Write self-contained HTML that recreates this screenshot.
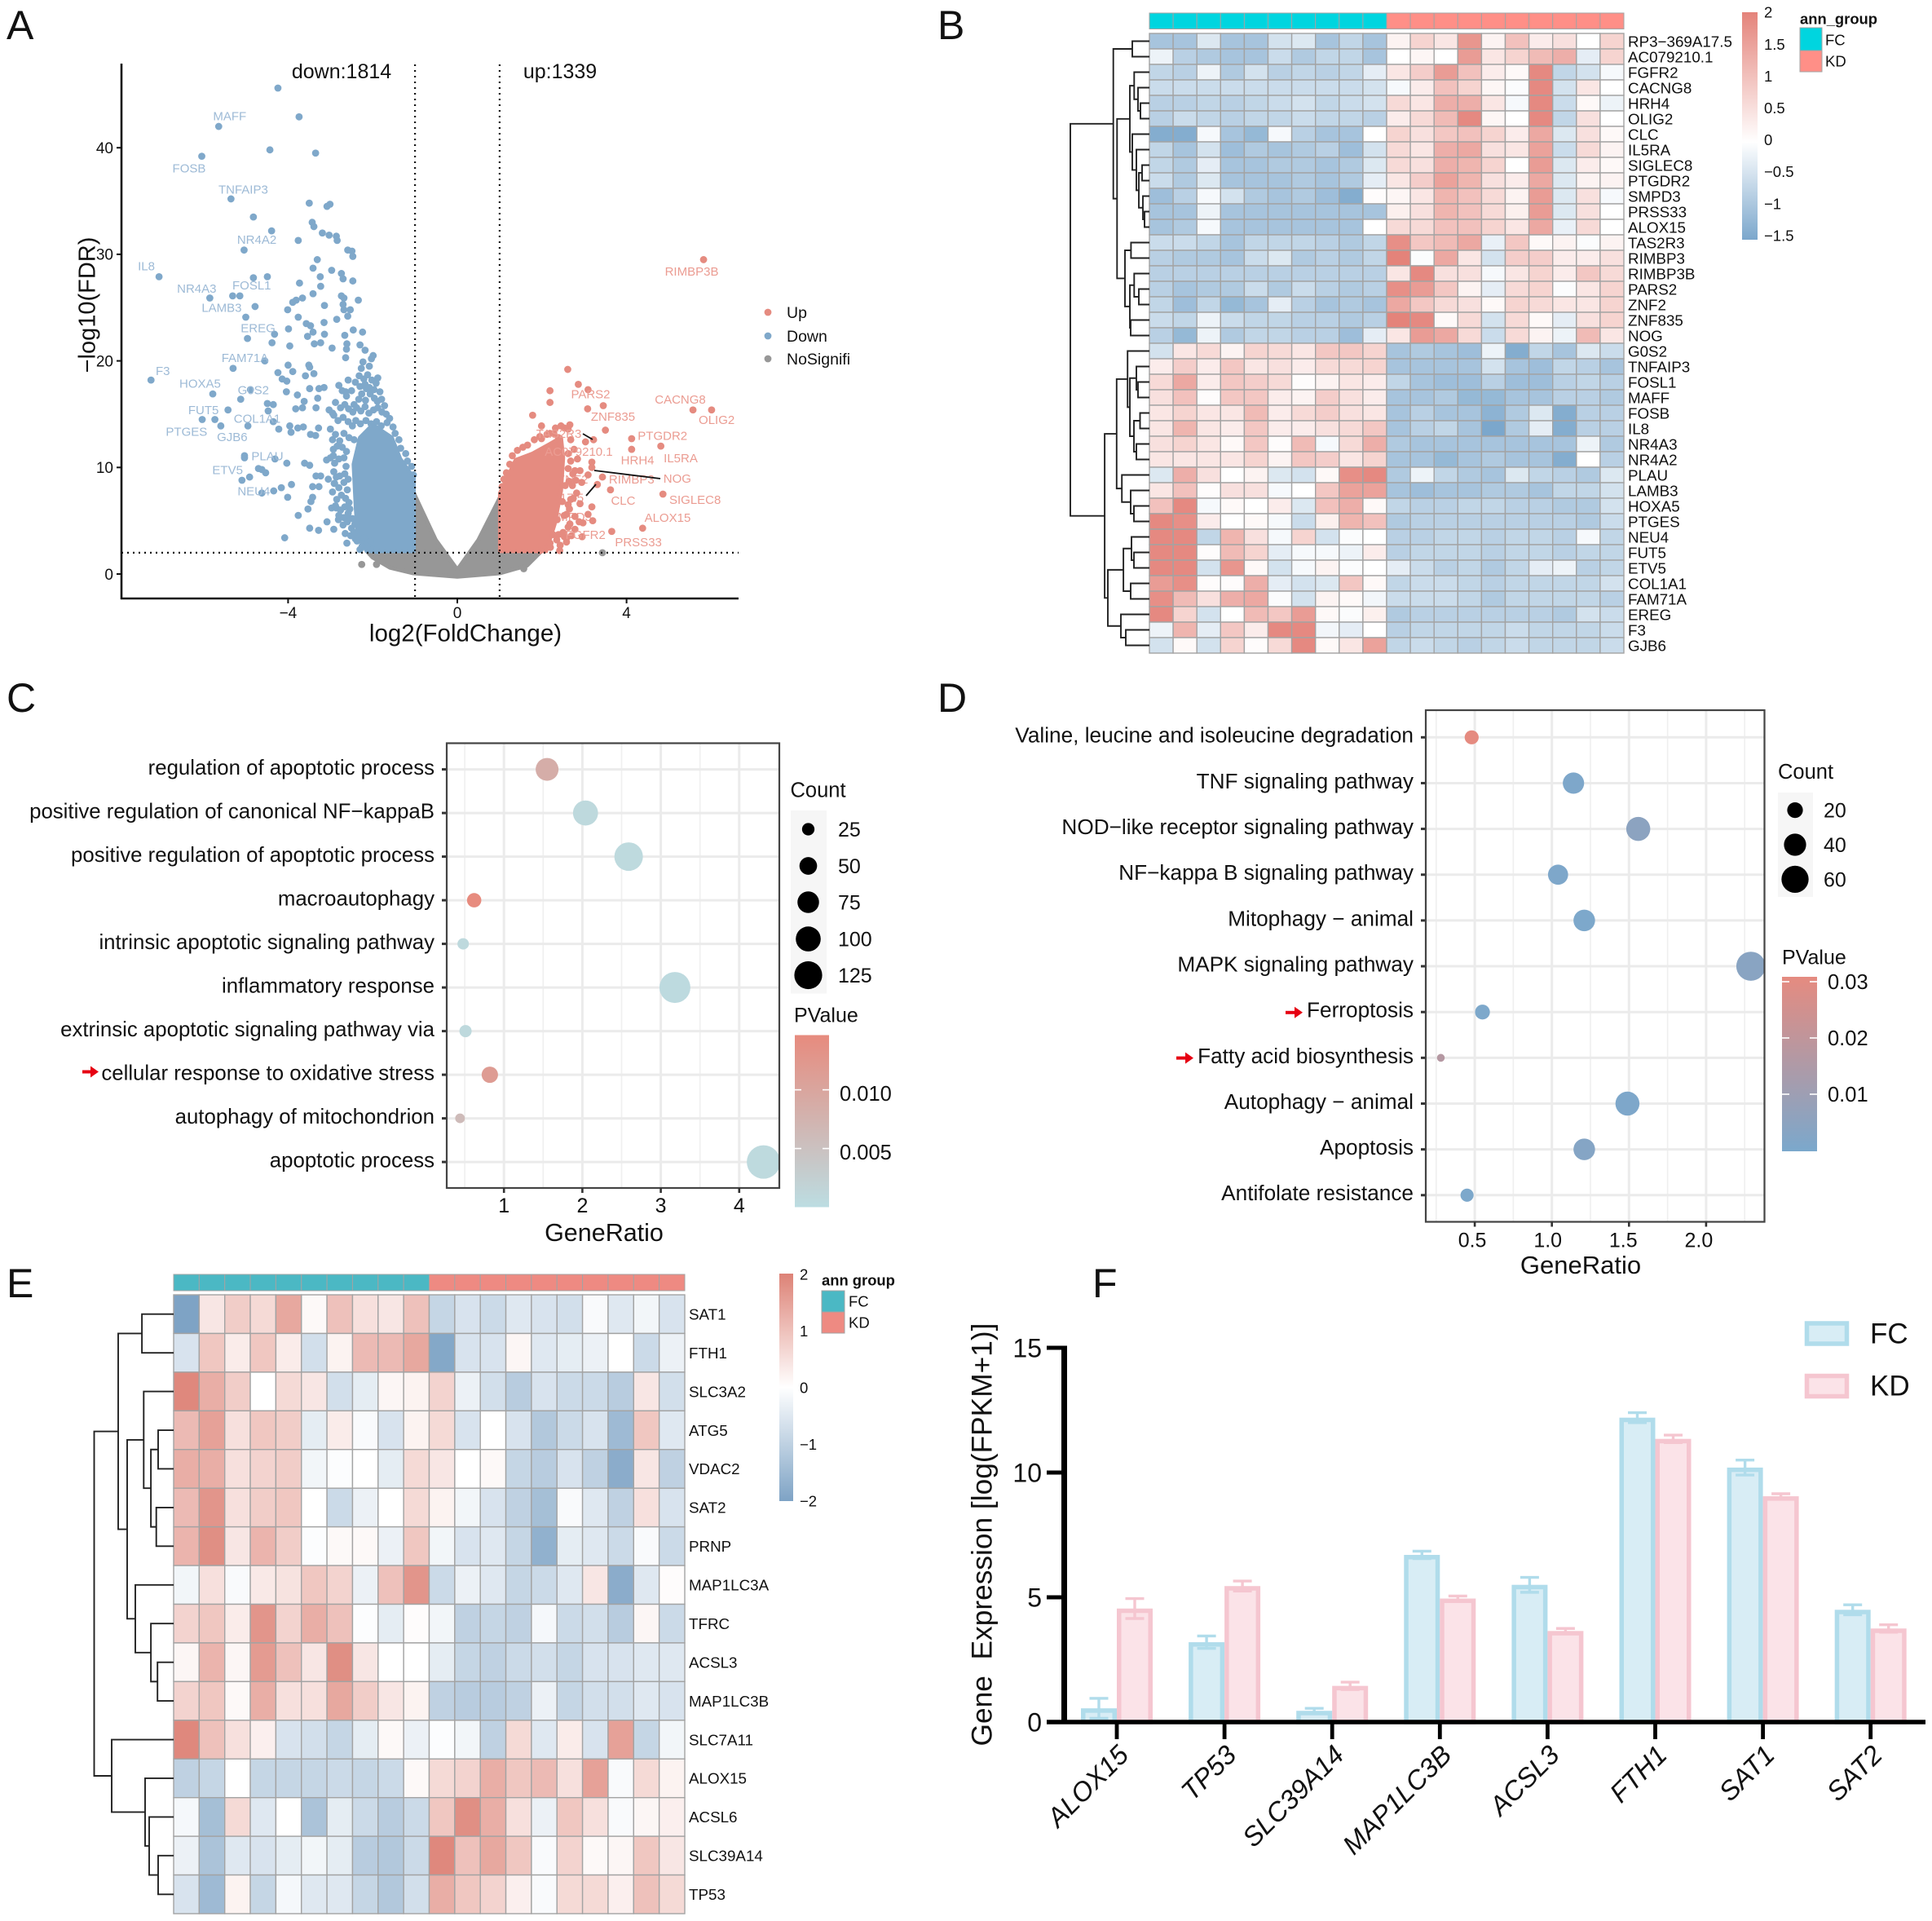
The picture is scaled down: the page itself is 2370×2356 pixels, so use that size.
<!DOCTYPE html>
<html lang="en">
<head>
<meta charset="utf-8">
<title>Multi-panel transcriptome figure</title>
<style>
html,body{margin:0;padding:0;background:#fff;}
svg{display:block;font-family:"Liberation Sans",sans-serif;}
</style>
</head>
<body>
<svg id="figure" xmlns="http://www.w3.org/2000/svg" width="2370" height="2356" viewBox="0 0 2370 2356">
<defs>
<linearGradient id="gradB" x1="0" y1="0" x2="0" y2="1"><stop offset="0" stop-color="#E4837A"/><stop offset="0.571" stop-color="#ffffff"/><stop offset="1" stop-color="#7BA7CC"/></linearGradient>
<linearGradient id="gradE" x1="0" y1="0" x2="0" y2="1"><stop offset="0" stop-color="#DD8276"/><stop offset="0.5" stop-color="#ffffff"/><stop offset="1" stop-color="#7EA3C5"/></linearGradient>
<linearGradient id="gradC" x1="0" y1="0" x2="0" y2="1"><stop offset="0" stop-color="#E78B7E"/><stop offset="1" stop-color="#BCDDE2"/></linearGradient>
<linearGradient id="gradD" x1="0" y1="0" x2="0" y2="1"><stop offset="0" stop-color="#E58B80"/><stop offset="1" stop-color="#7BA8CC"/></linearGradient>
<clipPath id="clipC"><rect x="548" y="911" width="408" height="546"/></clipPath>
<clipPath id="clipD"><rect x="1749" y="871" width="415.5" height="627"/></clipPath>
</defs>
</svg>
<script>
/* ---------- Panel A data (log2FC, -log10 FDR) ---------- */
const downX=[-4.24,-3.74,-5.64,-4.43,-3.35,-6.04,-5.35,-3.5,-3.08,-3.01,-4.82,-3.43,-3.39,-4.39,-3.19,-3.03,-2.86,-2.84,-3.76,-5.04,-2.59,-2.49,-2.47,-3.31,-3.41,-2.97,-2.74,-3.24,-4.82,-4.49,-7.05,-3.73,-2.7,-2.47,-3.23,-2.74,-2.68,-3.41,-3.66,-3.81,-3.89,-2.34,-5.31,-5.14,-5.85,-4.78,-4.01,-3.14,-2.7,-2.68,-2.53,-2.59,-5.0,-3.76,-3.57,-3.47,-3.15,-2.85,-3.99,-4.32,-2.46,-2.24,-3.54,-3.41,-3.14,-2.66,-4.38,-4.96,-3.23,-3.96,-3.38,-2.3,-2.61,-2.96,-2.62,-2.18,-1.99,-4.55,-2.03,-2.64,-2.23,-5.3,-3.51,-3.49,-2.08,-4.0,-4.24,-3.39,-2.27,-3.89,-3.59,-1.88,-4.14,-4.03,-7.24,-2.58,-2.41,-5.78,-4.89,-3.49,-3.27,-3.15,-4.04,-2.8,-3.78,-2.64,-2.15,-5.12,-5.42,-4.49,-4.35,-4.47,-3.3,-3.62,-3.03,-2.95,-3.66,-3.82,-3.34,-4.35,-6.03,-5.73,-5.59,-4.95,-4.22,-3.96,-3.93,-3.64,-3.77,-3.47,-3.35,-3.28,-5.03,-5.03,-4.31,-4.03,-3.61,-3.49,-3.09,-2.93,-2.93,-4.7,-4.62,-4.53,-5.09,-4.91,-3.92,-4.16,-4.62,-4.34,-4.01,-3.42,-3.34,-3.23,-3.27,-2.86,-2.91,-3.42,-3.46,-3.53,-3.76,-3.49,-3.28,-3.08,-2.97,-2.86,-4.08,-2.81,-2.61,-2.61,-2.3,-2.41,-2.92];
const downY=[45.6,42.9,42.0,39.8,39.5,39.2,35.2,34.8,34.5,34.7,33.5,33.0,32.6,32.2,32.0,31.8,31.7,31.3,31.3,30.4,30.4,30.3,29.8,29.5,28.7,28.5,28.2,27.9,27.8,27.9,27.9,27.3,27.7,27.5,27.0,26.1,25.9,26.3,25.9,25.7,25.5,25.7,26.1,26.1,25.9,25.1,24.8,25.2,25.3,24.8,24.8,24.2,24.1,24.1,23.5,23.3,23.6,23.9,23.0,22.5,22.9,22.7,22.3,22.7,22.5,22.4,21.7,22.1,21.7,21.4,21.6,21.5,21.6,21.2,21.1,21.0,20.5,20.0,20.2,20.3,19.9,19.3,19.6,19.4,19.5,19.6,18.9,18.8,19.3,19.0,18.6,18.4,18.3,18.1,18.2,18.2,18.0,16.9,17.3,17.4,17.4,17.5,17.1,17.7,16.8,17.1,17.4,16.4,15.4,16.0,15.9,15.3,16.5,16.2,15.4,15.1,15.6,15.5,15.6,14.3,14.5,14.5,13.9,13.9,13.6,13.9,13.3,13.8,13.7,13.1,13.0,13.7,11.1,10.9,10.8,10.4,10.4,10.2,10.7,11.7,11.1,9.9,9.8,9.5,8.8,9.1,8.4,8.1,7.6,7.8,7.2,8.2,9.2,9.2,8.2,9.1,8.5,7.2,6.8,6.1,5.5,4.3,4.1,4.9,6.2,6.2,3.4,5.1,5.3,2.9,2.3,3.3,4.2];
const downDenseX=[-2.32,-2.21,-2.12,-2.02,-1.92,-2.3,-2.18,-2.08,-1.97,-1.83,-2.72,-2.62,-2.5,-2.44,-2.33,-2.26,-2.17,-2.06,-1.96,-1.89,-1.79,-1.72,-2.88,-2.76,-2.66,-2.57,-2.47,-2.38,-2.28,-2.18,-2.09,-1.98,-1.88,-1.78,-1.68,-1.6,-2.92,-2.82,-2.7,-2.58,-2.48,-2.4,-2.29,-2.16,-2.04,-1.91,-1.8,-1.66,-1.52,-1.47,-3.0,-2.88,-2.78,-2.68,-2.56,-2.44,-2.95,-2.84,-2.72,-2.62,-1.38,-1.34,-1.22,-1.18,-1.08,-1.04,-3.0,-2.9,-2.8,-2.68,-2.63,-2.92,-2.78,-2.66,-2.58,-3.05,-2.9,-2.8,-2.68,-2.6,-2.95,-2.85,-2.74,-2.64,-2.56,-2.88,-2.76,-2.66,-2.54,-2.8,-2.68,-2.58,-2.48,-2.7,-2.6,-2.5,-2.42,-2.65,-2.52,-2.44,-2.37,-2.25,-2.2,-2.1,-2.0,-1.9,-2.05];
const downDenseY=[18.6,18.3,18.7,18.2,17.9,17.6,17.8,17.5,17.3,17.1,17.2,16.7,17.2,15.9,16.4,16.9,16.3,16.9,16.5,16.2,16.4,15.8,16.1,15.6,15.9,15.5,15.2,15.6,15.3,15.7,15.1,15.4,15.6,15.2,15.0,14.6,14.9,14.4,14.7,14.3,13.9,14.4,14.1,14.4,14.1,14.3,13.9,14.2,13.8,13.2,13.6,13.1,12.5,13.2,12.8,12.6,12.6,12.0,11.9,11.5,12.6,11.8,11.3,10.6,10.1,9.3,10.9,10.4,10.8,10.9,10.1,9.6,9.2,9.4,8.9,8.9,8.5,8.1,8.6,7.9,7.7,7.0,7.4,7.1,6.7,6.4,6.0,6.3,6.1,5.5,5.3,5.7,5.2,4.6,4.9,4.3,4.7,3.8,3.6,3.9,3.1,2.6,3.4,2.5,2.3,2.2,3.1];
const upX=[5.82,2.61,2.86,3.09,2.19,2.19,3.45,3.08,5.57,6.01,1.78,3.5,4.12,3.22,3.03,4.12,4.81,3.18,3.18,3.09,3.43,3.31,3.62,4.86,2.74,3.18,3.2,3.09,4.38,3.65,2.95,2.97,2.65,1.99,2.66,2.32,2.53,2.19,1.99,2.39,2.8,2.73,2.53,2.39,2.53,2.26,2.59,2.43,2.19,2.66];
const upY=[29.5,19.2,17.8,17.3,17.2,16.1,15.8,15.5,15.4,15.4,14.9,13.5,12.7,12.6,12.4,11.7,12.0,10.5,10.0,9.3,9.1,8.4,7.9,7.5,7.1,6.3,5.0,5.6,4.3,4.0,3.5,4.8,6.1,13.9,14.0,13.7,13.7,13.2,12.7,12.8,8.8,9.4,5.5,3.7,3.5,3.7,3.4,2.7,2.9,4.7];
const upDenseX=[2.62,2.45,2.28,2.12,1.95,1.82,1.66,1.55,1.42,1.3,1.24,1.16,1.1,1.06,2.68,2.76,2.62,2.84,2.68,2.9,2.78,2.62,2.94,2.72,2.64,2.82,2.68,2.9,2.62,2.78,2.58,2.88,2.62,2.78,2.5,2.7,2.35,2.58,2.2,2.42,2.05,1.95,2.36,2.48,2.55];
const upDenseY=[13.6,13.9,13.2,13.1,12.9,12.6,12.1,11.9,11.6,11.1,10.3,9.5,8.9,8.2,12.6,11.7,11.3,10.8,10.6,9.7,9.7,9.9,8.6,8.3,8.7,7.6,7,6.6,6.5,5.4,5.6,4.9,4.4,4.2,3.9,3.6,3.2,3.0,2.5,2.2,2.3,2.2,5.1,6.8,8.3];
const outlierX=[3.43,1.57,-2.26,-1.91];
const outlierY=[2.0,0.5,0.9,0.9];
/* dense clouds of points, outlined in data units */
const downCloudX=[-1.03,-1.03,-1.35,-1.55,-2.0,-2.3,-2.45,-2.4,-2.35,-2.14];
const downCloudY=[2.15,9.0,10.8,12.8,14.0,12.8,10.3,6.25,3.5,2.15];
const upCloudX=[1.01,1.01,1.18,1.38,1.78,2.19,2.45,2.5,2.45,2.3,2.1];
const upCloudY=[2.15,7.6,9.0,10.7,11.3,12.2,12.8,10.9,7.8,4.7,2.15];
const grayCloudX=[-2.14,-1.03,-1.03,-0.51,0,0.5,1.01,1.01,1.99,1.65,1.01,0,-1.05,-1.59,-2.0];
const grayCloudY=[2.15,2.15,7.6,3.2,0.4,3.2,7.2,2.15,2.15,0.8,0.08,-0.25,0.08,0.6,1.55];
const volcanoXTicks=[-4,0,4];
const volcanoYTicks=[0,10,20,30,40];
const downGeneLabels=["MAFF","FOSB","TNFAIP3","NR4A2","IL8","NR4A3","FOSL1","LAMB3","EREG","FAM71A","F3","HOXA5","G0S2","FUT5","COL1A1","PTGES","GJB6","PLAU","ETV5","NEU4"];
const downGeneLabelX=[-5.38,-6.34,-5.06,-4.74,-7.35,-6.16,-4.86,-5.57,-4.71,-5.02,-6.96,-6.08,-4.82,-6.0,-4.73,-6.4,-5.32,-4.49,-5.43,-4.81];
const downGeneLabelY=[43.0,38.1,36.1,31.4,28.9,26.8,27.1,25.0,23.1,20.3,19.1,17.9,17.3,15.4,14.6,13.4,12.9,11.1,9.8,7.8];
const upGeneLabels=["RIMBP3B","PARS2","CACNG8","ZNF835","OLIG2","TAS2R3","PTGDR2","AC079210.1","HRH4","IL5RA","NOG","RIMBP3","SIGLEC8","CLC","ALOX15","FGFR2","PRSS33"];
const upGeneLabelX=[5.54,3.15,5.27,3.68,6.13,2.4,4.85,2.87,4.26,5.28,5.2,4.12,5.62,3.92,4.97,3.03,4.28];
const upGeneLabelY=[28.4,16.9,16.4,14.8,14.5,13.2,13.0,11.5,10.7,10.9,9.0,8.9,7.0,6.9,5.3,3.7,3.0];
const hiddenGeneLabels=["ZNF2","RP3-369A17.5","SMPD3"];
const hiddenGeneLabelX=[2.73,2.04,2.68];
const hiddenGeneLabelY=[8.9,7.2,5.4];

/* ---------- Panel B data (z-scores) ---------- */
const heatBGenes=["RP3−369A17.5","AC079210.1","FGFR2","CACNG8","HRH4","OLIG2","CLC","IL5RA","SIGLEC8","PTGDR2","SMPD3","PRSS33","ALOX15","TAS2R3","RIMBP3","RIMBP3B","PARS2","ZNF2","ZNF835","NOG","G0S2","TNFAIP3","FOSL1","MAFF","FOSB","IL8","NR4A3","NR4A2","PLAU","LAMB3","HOXA5","PTGES","NEU4","FUT5","ETV5","COL1A1","FAM71A","EREG","F3","GJB6"];
const heatBValues=[
[-1,-1,-.4,-1,-1,-.5,-.4,-1,-.7,-1,.2,.7,.4,1.7,.2,1,.3,.5,0,.7],
[-.2,-.8,-.9,-1,-1,-.6,-.9,-.7,-.7,-1,0,.15,0,1.6,.4,.7,1.1,1.3,-.3,.7],
[-.7,-.8,-.2,-.9,-.5,-.8,-.7,-.8,-.7,-.3,.4,.8,1.6,1,.3,.1,1.9,-.7,-.5,-.1],
[-.6,-.6,-.6,-.6,-.6,-.6,-.6,-.6,-.6,-.5,-.1,.3,1,.7,.15,-.05,1.9,-.5,.4,0],
[-.8,-.8,-.7,-.8,-.7,-.6,-.5,-.7,-.6,-.5,.6,.4,1.3,1.3,.4,-.1,1.9,-.6,.1,-.2],
[-.8,-.6,-.7,-.8,-.7,-.7,-.6,-.7,-.7,-.8,.3,.6,1.1,1.9,.15,0,1.9,-.7,.5,0],
[-1.4,-1.4,-.1,-1,-1.2,-.1,-.8,-1,-1,0,.7,.5,.9,1,.7,.3,1.4,-.4,.5,.1],
[-.7,-1,-.5,-1.1,-.9,-1,-.9,-.8,-1.1,-.5,.6,.4,1.3,1.4,.5,.4,1.5,-.6,.6,.2],
[-.7,-.9,-.3,-1,-1,-.9,-.9,-1,-.9,-.4,.6,.5,1.3,1.2,.7,0,1.6,-.4,.3,.1],
[-.6,-.9,-.4,-1,-1,-1,-.9,-1,-.9,-.3,.4,.8,1.5,1.2,.5,.3,1.4,-.4,.2,.2],
[-1.1,-.8,-.1,-.5,-.9,-1,-.9,-1.1,-1.4,.05,.15,.4,1.2,1,.6,.2,1.6,-.4,.5,-.1],
[-1,-1,-.2,-1,-1,-1,-1,-1,-1,-1,.25,.5,1.2,1,.6,.25,1.6,-.4,.5,0],
[-1,-.9,-.1,-1,-1,-1,-1,-1,-1,0,.6,.6,1,1,.7,.4,1.4,-.25,.6,0],
[-.6,-.6,-.7,-1,-.7,-.7,-.7,-.8,-.9,-.7,1.8,.9,1.1,1.4,-.25,.9,.1,.2,-.05,.2],
[-.8,-.9,-.9,-1,-.6,-.4,-.9,-.8,-.9,-.7,2,-.05,1.4,.4,-.5,.8,.8,.3,.3,.5],
[-.8,-.8,-.8,-.8,-.8,-.8,-.8,-.8,-.8,-.8,.4,1.9,.5,.5,-.1,.4,.7,.3,.9,.6],
[-.8,-1,-.9,-.9,-.6,-.9,-.6,-.8,-.9,-.8,1.8,1.6,.9,.2,-.3,.6,.7,-.05,.4,.7],
[-.7,-1.1,-.7,-1.2,-1,-.3,-.8,-1,-.9,-1,1.4,.9,.6,.5,.1,.7,.6,.4,.4,.7],
[-.6,-.7,-.2,-.6,-.7,-.7,-.8,-.8,-.9,-.8,2,1.9,.1,.6,-.5,.6,.1,-.3,.5,.7],
[-.8,-1.2,-.2,-.9,-.7,-.7,-.8,-.8,-1.1,-.3,.4,1.6,1.4,.6,-.6,.6,.2,-.2,1.1,.4],
[-.5,.4,.6,.2,.7,.6,.4,.9,.9,.7,-1,-.9,-1,-1.1,-.2,-1.4,-.7,-1,-.4,-.6],
[.3,.8,.3,.9,.4,.5,.3,.6,.6,.7,-1,-1,-1,-1,-.5,-1,-1.1,-.7,-.8,-1],
[.6,1.4,.3,.9,.8,.6,.05,.2,.4,.3,-.7,-1,-1.1,-1.1,-.8,-1.1,-1.1,-.8,-.7,-.8],
[.5,1,.05,.9,.9,.3,.2,.8,.5,.3,-1,-1,-.9,-1.2,-1.2,-1,-1,-.8,-.8,-.9],
[.4,.7,.4,.4,1.1,.3,.6,.8,.5,.4,-1,-.8,-1,-1,-1.3,-.9,-.4,-1.4,-.8,-.8],
[.4,1.2,.4,.3,.9,.3,.3,.5,.6,.9,-1,-.8,-.7,-1,-1.5,-.9,-.3,-1.4,-.8,-.8],
[.5,.7,.4,.1,.9,.05,1.1,-.1,.6,1.3,-.9,-1,-1,-1,-1,-1,-1,-1,-.2,-.9],
[.4,.4,.4,.4,.7,.2,.9,.8,.4,.7,-1,-1,-1.2,-1,-.9,-1,-1,-1.4,0,-.8],
[-.4,1.3,.5,0,.2,-.4,-.5,.1,1.8,1.9,-.9,-.2,-.7,-.9,-1,-.4,-.7,-.8,-.9,-.4],
[.4,1,.05,.5,.5,-.1,0,.9,1.5,1.5,-1,-1.1,-1,-1,-.9,-.9,-1,-.7,-.7,-.5],
[1,1.9,-.1,.1,0,.3,-.4,1,1.3,.1,-.7,-.8,-.8,-.7,-.7,-.8,-.8,-.9,-.9,-.5],
[1.9,1.8,.3,0,.1,-.1,-.6,.25,1.2,1,-.9,-.8,-.8,-.8,-.8,-.8,-.8,-.8,-.9,-.6],
[1.9,1.9,-.7,1.2,.5,-.1,.7,-.5,-.05,0,-.8,-.8,-.7,-.7,-.8,-.7,-.7,-.8,-.1,-.7],
[1.9,1.9,.05,1.1,.7,-.3,-.1,-.1,-.2,.3,-.8,-.7,-.7,-.7,-.8,-.7,-.7,-.8,-.7,-.7],
[1.9,1.9,-.5,1.7,.1,-.5,-.1,.2,-.05,0,-.3,-.6,-.8,-.7,-.9,-.7,-.3,-.2,-.8,-.7],
[1.6,1.8,.05,.05,1.3,-.3,-.5,-.4,.9,.1,-.7,-.6,-.6,-.7,-.8,-.7,-.7,-.7,-.7,-.5],
[1.8,1.1,.5,1.3,1.4,-.05,-.5,.2,.1,-.15,-.6,-.6,-.6,-.7,-.9,-.7,-.7,-.7,-.7,-.8],
[1.9,.7,-.5,0,1.1,.9,1.6,.1,-.05,.25,-.9,-.8,-.8,-.8,-.8,-.8,-.8,-.9,-.5,-.6],
[-.2,1.2,-.3,.9,.3,1.9,1.9,-.15,-.3,0,-.8,-.7,-.7,-.7,-.7,-.6,-.7,-.7,-.7,-.6],
[-.5,.1,-.5,.7,.05,.6,1.9,.1,.4,1.5,-.7,-.6,-.7,-.8,-.7,-.6,-.7,-.7,-.7,-.6]
];
const heatBLegendTicks=[2,1.5,1,0.5,0,-0.5,-1,-1.5];
const heatBTree=[97,
 [44.3,[21,0,1],[39.7,
   [24,[18.7,2,[14,3,[11,4,5]]],[21,6,[16,7,[13,[9,8,9],[8,10,[6,11,12]]]]]],
   [30,[22.6,13,14],[24,[18.7,15,[13,16,17]],[23,18,19]]]]],
 [54.9,[40.2,
   [26.8,20,[24,[16,21,[14,22,23]],[19,[11.5,24,25],[16,26,27]]]],
   [33.8,28,[23,29,[19,30,31]]]],
  [51,[31.9,[22,32,[19,33,34]],[23,35,36]],[35,37,[29,38,39]]]]];

/* ---------- Panel C data ---------- */
const goTerms=["regulation of apoptotic process","positive regulation of canonical NF−kappaB","positive regulation of apoptotic process","macroautophagy","intrinsic apoptotic signaling pathway","inflammatory response","extrinsic apoptotic signaling pathway via","cellular response to oxidative stress","autophagy of mitochondrion","apoptotic process"];
const goRatio=[1.55,2.04,2.59,0.62,0.48,3.18,0.51,0.82,0.44,4.31];
const goCount=[84,101,131,33,21,154,24,43,15,180];
const goPValue=[0.0085,0.0007,0.0006,0.0146,0.0008,0.0005,0.0008,0.0115,0.006,0.0006];
const goXTicks=[1,2,3,4];
const goCountLegend=[25,50,75,100,125];
const goPTicks=[0.010,0.005];

/* ---------- Panel D data ---------- */
const keggTerms=["Valine, leucine and isoleucine degradation","TNF signaling pathway","NOD−like receptor signaling pathway","NF−kappa B signaling pathway","Mitophagy − animal","MAPK signaling pathway","Ferroptosis","Fatty acid biosynthesis","Autophagy − animal","Apoptosis","Antifolate resistance"];
const keggRatio=[0.48,1.14,1.56,1.04,1.21,2.29,0.55,0.28,1.49,1.21,0.45];
const keggCount=[16,37,47,33,38,69,18,5,47,38,14];
const keggPValue=[0.031,0.001,0.005,0.001,0.0005,0.004,0.0005,0.017,0.001,0.003,0.0005];
const keggXTicks=[0.5,1.0,1.5,2.0];
const keggCountLegend=[20,40,60];
const keggPTicks=[0.03,0.02,0.01];

/* ---------- Panel E data ---------- */
const heatEGenes=["SAT1","FTH1","SLC3A2","ATG5","VDAC2","SAT2","PRNP","MAP1LC3A","TFRC","ACSL3","MAP1LC3B","SLC7A11","ALOX15","ACSL6","SLC39A14","TP53"];
const heatEValues=[
[-2,.4,.8,.6,1.4,.1,1,.5,.4,1,-.9,-.6,-.8,-.5,-.6,-.7,-.1,-.5,-.2,-.6],
[-.6,.9,.3,.9,.3,-.7,.2,1.1,1.1,1.4,-1.9,-.6,-.6,.15,-.5,-.4,-.3,0,-.8,-.3],
[1.9,1.3,.8,0,.6,.4,-.7,-.4,.15,.2,.7,-.3,-.7,-1.1,-.6,-.8,-.8,-1.1,.4,-.7],
[1.1,1.5,.5,.9,.8,-.4,.3,-.1,-.6,.2,.6,-.6,0,-.6,-1.2,-.8,-.6,-1.5,.9,-.5],
[1.3,1.3,.5,.7,.8,-.2,-.05,0,-.4,.6,.4,0,.1,-.9,-1.1,-.6,-1,-1.8,.4,-1],
[1.1,1.7,.5,.8,.9,0,-.8,-.3,0,.6,.2,-.2,-.6,-1,-1.4,-.1,-.5,-1,.5,-.6],
[1.2,1.8,.4,1.2,.8,-.05,.1,.1,-.3,.9,-.2,-.6,-.5,-.9,-1.7,-.4,-.5,-.8,-.1,-.8],
[-.2,.5,-.1,.35,.45,.9,.7,-.3,1,1.7,-.8,-.3,-.5,-.9,-.8,-.5,.4,-1.8,-.5,.05],
[.7,.9,.3,1.7,.7,1.3,1,-.05,-.4,.05,-.2,-1,-.9,-1,-.15,-.8,-.7,-1.1,.15,-.8],
[.15,1.2,.15,1.6,1,.4,1.8,.4,0,0,-.4,-.9,-1,-.8,-.7,-.9,-.6,-.6,-.5,-.5],
[.7,.9,.1,1.3,.5,.5,1.4,.8,.4,.2,-1,-1.1,-1.1,-1,-.3,-.9,-.7,-.7,-.5,-.6],
[1.9,1,.5,.25,-.6,-.7,-.9,-.4,.1,-.3,-.05,-.2,-1,.6,-.5,.3,-.6,1.5,-.9,-.2],
[-1,-.9,0,-.9,-.9,-.9,-.8,-.9,-.8,.1,.6,.7,1.3,.9,1.1,.5,1.5,-.1,.6,.2],
[-.15,-1.4,.6,-.5,0,-1.3,-.4,-.8,-1.1,-.8,.9,1.8,1.3,.5,-.3,.9,.5,-.1,.15,.25],
[-.3,-1.3,-.5,-.6,-.4,-.2,-.4,-1.1,-1.2,-.8,1.9,1,1.4,.9,-.1,.7,.1,.15,.9,.4],
[-.6,-1.5,.2,-.9,-.15,-.5,-.5,-.9,-1.2,-.7,1.3,.9,.7,.25,-.1,.6,.6,.25,1,.6]
];
const heatELegendTicks=[2,1,0,-1,-2];
const heatETree=[97.5,
 [68,[38.9,0,1],[57,[36.7,2,[27.9,[19,3,4],[21.3,5,6]]],[47,7,[27.9,8,[19.8,9,10]]]]],
 [76,11,[35,12,[30,13,[19,14,15]]]]];

/* ---------- Panel F data ---------- */
const barGenes=["ALOX15","TP53","SLC39A14","MAP1LC3B","ACSL3","FTH1","SAT1","SAT2"];
const barFC=[0.55,3.2,0.45,6.7,5.5,12.2,10.2,4.5];
const barKD=[4.55,5.45,1.45,4.95,3.65,11.35,9.05,3.75];
const errFC=[0.4,0.25,0.1,0.15,0.3,0.2,0.3,0.2];
const errKD=[0.4,0.2,0.15,0.1,0.1,0.15,0.1,0.15];
const barYTicks=[0,5,10,15];

/* ---------- helpers ---------- */
const NS="http://www.w3.org/2000/svg";
const svg=document.getElementById("figure");
function shape(tag,attrs,parent){
  const n=document.createElementNS(NS,tag);
  for(const k in attrs){n.setAttribute(k,attrs[k]);}
  (parent||svg).appendChild(n);
  return n;
}
function label(x,y,str,size,name,opts){
  opts=opts||{};
  const t=document.createElementNS(NS,"text");
  t.setAttribute("x",x);
  t.setAttribute("y",y+size*0.36);
  t.setAttribute("font-size",size);
  t.setAttribute("fill",opts.fill||"#111");
  t.setAttribute("text-anchor",opts.anchor||"start");
  if(opts.weight){t.setAttribute("font-weight",opts.weight);}
  if(opts.italic){t.setAttribute("font-style","italic");}
  if(opts.pre){t.setAttribute("style","white-space:pre");}
  if(opts.rotate!==undefined){t.setAttribute("transform","rotate("+opts.rotate+" "+x+" "+y+")");}
  
  
  t.textContent=str;
  svg.appendChild(t);
  return t;
}
function seg(x1,y1,x2,y2,stroke,w,name,dash){
  const a={x1:x1,y1:y1,x2:x2,y2:y2,stroke:stroke,"stroke-width":w};
  if(dash){a["stroke-dasharray"]=dash;}
  const l=shape("line",a);
  
  
  return l;
}
function mix(a,b,t){
  const c=[0,1,2].map(function(i){return Math.round(a[i]+(b[i]-a[i])*t);});
  return "rgb("+c.join(",")+")";
}
function heatColor(v,lo,hi,maxNeg,maxPos){
  if(v>=0){return mix([255,255,255],hi,Math.min(1,v/maxPos));}
  return mix([255,255,255],lo,Math.min(1,-v/maxNeg));
}
function arrow(x1,x2,y){
  const g=shape("g",{});
  
  
  shape("line",{x1:x1,y1:y,x2:x2-6,y2:y,stroke:"#E60012","stroke-width":4},g);
  shape("polygon",{points:(x2-10)+","+(y-7)+" "+x2+","+y+" "+(x2-10)+","+(y+7),fill:"#E60012"},g);
}
/* panel letters */
const panelLetters=["A","B","C","D","E","F"];
const letterX=[8,1150,8,1150,8,1340];
const letterY=[30,30,855,855,1573,1573];
panelLetters.forEach(function(s,i){label(letterX[i],letterY[i],s,50,"panel-letter-"+s.toLowerCase());});

/* ---------- Panel A ---------- */
function xA(v){return 561+51.9*v;}
function yA(v){return 704-13.07*v;}
function cloud(xs,ys,fill,name){
  const p=shape("polygon",{points:xs.map(function(x,i){return xA(x)+","+yA(ys[i]);}).join(" "),fill:fill,stroke:fill,"stroke-width":5,"stroke-linejoin":"round"});
  
  
}
hiddenGeneLabels.forEach(function(s,i){label(xA(hiddenGeneLabelX[i]),yA(hiddenGeneLabelY[i]),s,15,"gene-label-up",{fill:"#EB9C92",anchor:"middle"});});
cloud(grayCloudX,grayCloudY,"#979797","nosignif-point-cloud");
cloud(upCloudX,upCloudY,"#E58B80","up-point-cloud");
cloud(downCloudX,downCloudY,"#7FA8CA","down-point-cloud");
function points(xs,ys,fill,name){
  xs.forEach(function(x,i){
    const c=shape("circle",{cx:xA(x),cy:yA(ys[i]),r:4.4,fill:fill});
    
    
  });
}
points(outlierX,outlierY,"#979797","nosignif-point");
points(upX,upY,"#E58B80","up-point");
points(upDenseX,upDenseY,"#E58B80","up-point");
points(downX,downY,"#7FA8CA","down-point");
points(downDenseX,downDenseY,"#7FA8CA","down-point");
seg(xA(-1),79,xA(-1),734,"#111",2.2,"fold-threshold-left","2 5");
seg(xA(1),79,xA(1),734,"#111",2.2,"fold-threshold-right","2 5");
seg(149,yA(2),906,yA(2),"#111",2.2,"fdr-threshold","2 5");
seg(149,78,149,735,"#111",2.6,"volcano-y-axis");
seg(148,734,906,734,"#111",2.6,"volcano-x-axis");
volcanoXTicks.forEach(function(v){
  seg(xA(v),734,xA(v),740,"#111",2,"volcano-x-tick");
  label(xA(v),751,v<0?"−"+(-v):String(v),19,"volcano-x-tick-label",{anchor:"middle"});
});
volcanoYTicks.forEach(function(v){
  seg(143,yA(v),149,yA(v),"#111",2,"volcano-y-tick");
  label(139,yA(v),String(v),19,"volcano-y-tick-label",{anchor:"end"});
});
label(571,776,"log2(FoldChange)",29.5,"volcano-x-title",{anchor:"middle"});
label(106,374,"−log10(FDR)",29,"volcano-y-title",{anchor:"middle",rotate:-90});
label(419,87,"down:1814",25,"down-count-label",{anchor:"middle"});
label(687,87,"up:1339",25,"up-count-label",{anchor:"middle"});
downGeneLabels.forEach(function(s,i){label(xA(downGeneLabelX[i]),yA(downGeneLabelY[i]),s,15,"gene-label-down",{fill:"#9DBAD6",anchor:"middle"});});
upGeneLabels.forEach(function(s,i){label(xA(upGeneLabelX[i]),yA(upGeneLabelY[i]),s,15,"gene-label-up",{fill:"#EB9C92",anchor:"middle"});});
seg(715,532,727,539,"#111",1.8,"label-connector");
seg(729,577,810,587,"#111",1.8,"label-connector");
seg(731,594,719,608,"#111",1.8,"label-connector");
const legendAColors=["#E58B80","#7FA8CA","#979797"];
const legendANames=["Up","Down","NoSignifi"];
const legendAY=[383,412,440];
legendANames.forEach(function(s,i){
  const c=shape("circle",{cx:942,cy:legendAY[i],r:4.4,fill:legendAColors[i]});
  
  
  label(965,legendAY[i],s,19.5,"volcano-legend-label");
});

/* ---------- Heatmap helper ---------- */
function heatmap(cfg){
  const cw=(cfg.x1-cfg.x0)/cfg.values[0].length;
  const rh=(cfg.y1-cfg.y0)/cfg.values.length;
  function rowY(i){return cfg.y0+rh*(i+0.5);}
  cfg.values.forEach(function(row,r){
    row.forEach(function(v,c){
      const n=shape("rect",{x:cfg.x0+c*cw,y:cfg.y0+r*rh,width:cw,height:rh,fill:heatColor(v,cfg.lo,cfg.hi,cfg.maxNeg,cfg.maxPos),stroke:"#A3A3A3","stroke-width":1.4});
      
      
    });
  });
  for(let c=0;c<cfg.values[0].length;c++){
    const n=shape("rect",{x:cfg.x0+c*cw,y:cfg.barY0,width:cw,height:cfg.barY1-cfg.barY0,fill:c<10?cfg.fc:cfg.kd,stroke:"#A3A3A3","stroke-width":cfg.barStroke});
    
    
  }
  cfg.genes.forEach(function(g,i){label(cfg.labelX,rowY(i),g,18.8,cfg.name+"-row-label");});
  function drawNode(node){
    if(typeof node==="number"){return {x:cfg.x0,y:rowY(node)};}
    const a=drawNode(node[1]);
    const b=drawNode(node[2]);
    const x=cfg.x0-node[0];
    const p=shape("path",{d:"M"+a.x+" "+a.y+"H"+x+"V"+b.y+"H"+b.x,fill:"none",stroke:"#222","stroke-width":1.9});
    
    
    return {x:x,y:(a.y+b.y)/2};
  }
  drawNode(cfg.tree);
}
heatmap({name:"heatmap-b",x0:1410,x1:1992,y0:41,y1:801,barY0:16,barY1:35.5,barStroke:1,values:heatBValues,genes:heatBGenes,tree:heatBTree,labelX:1997,lo:[123,167,204],hi:[228,131,122],maxNeg:1.5,maxPos:2,fc:"#00D5DF",kd:"#FF8F87"});
heatmap({name:"heatmap-e",x0:213,x1:840,y0:1588,y1:2347,barY0:1563,barY1:1583,barStroke:1,values:heatEValues,genes:heatEGenes,tree:heatETree,labelX:845,lo:[126,163,197],hi:[221,130,118],maxNeg:2,maxPos:2,fc:"#4BB8C4",kd:"#EE8A82"});

/* legends for heatmaps */
function bar(x,y,w,h,fill,name,stroke,sw){
  const a={x:x,y:y,width:w,height:h,fill:fill};
  if(stroke){a.stroke=stroke;a["stroke-width"]=sw||1;}
  const n=shape("rect",a);
  
  
  return n;
}
bar(2137,15,19,279,"url(#gradB)","heatmap-b-colorbar");
heatBLegendTicks.forEach(function(v,i){
  const s=(v<0?"−"+(-v):String(v));
  label(2164,15+i*39.1,s,18.5,"heatmap-b-colorbar-label");
});
label(2208,23,"ann_group",18.4,"heatmap-b-legend-title",{weight:"bold"});
bar(2208,34,27,28,"#00D5DF","heatmap-b-legend-fc","#A3A3A3",1);
bar(2208,62,27,26,"#FF8F87","heatmap-b-legend-kd","#A3A3A3",1);
label(2239,49,"FC",18.5,"heatmap-b-legend-fc-label");
label(2239,75,"KD",18.5,"heatmap-b-legend-kd-label");
bar(956,1562,17,279,"url(#gradE)","heatmap-e-colorbar");
heatELegendTicks.forEach(function(v,i){
  const s=(v<0?"−"+(-v):String(v));
  label(981,1563+i*69.5,s,18.5,"heatmap-e-colorbar-label");
});
label(1008,1570,"ann group",18.4,"heatmap-e-legend-title",{weight:"bold"});
bar(1008,1583,28,26,"#4BB8C4","heatmap-e-legend-fc","#A3A3A3",1);
bar(1008,1609,28,26,"#EE8A82","heatmap-e-legend-kd","#A3A3A3",1);
label(1041,1596,"FC",18.5,"heatmap-e-legend-fc-label");
label(1041,1622,"KD",18.5,"heatmap-e-legend-kd-label");

/* ---------- Dot plot helper ---------- */
function dotplot(cfg){
  const bgPanel=shape("rect",{x:cfg.box[0],y:cfg.box[1],width:cfg.box[2]-cfg.box[0],height:cfg.box[3]-cfg.box[1],fill:"#fff"});
  
  
  cfg.xMinor.forEach(function(v){seg(cfg.xS(v),cfg.box[1],cfg.xS(v),cfg.box[3],"#EFEFEF",1.6,cfg.name+"-minor-grid");});
  cfg.xTicks.forEach(function(v){seg(cfg.xS(v),cfg.box[1],cfg.xS(v),cfg.box[3],"#EBEBEB",3,cfg.name+"-major-grid");});
  cfg.terms.forEach(function(t,i){
    const y=cfg.yS(i);
    seg(cfg.box[0],y,cfg.box[2],y,"#EBEBEB",3,cfg.name+"-major-grid");
    seg(cfg.box[0]-6,y,cfg.box[0],y,"#333",3,cfg.name+"-y-tick");
    label(cfg.box[0]-15,y-3,t,cfg.termSize,cfg.name+"-term-label",{anchor:"end"});
  });
  const g=shape("g",{"clip-path":"url(#"+cfg.clip+")"});
  
  
  cfg.ratio.forEach(function(v,i){
    const c=shape("circle",{cx:cfg.xS(v),cy:cfg.yS(i),r:cfg.rS(cfg.count[i]),fill:mix(cfg.pLo,cfg.pHi,Math.min(1,cfg.p[i]/cfg.pMax))},g);
    
    
  });
  const b=shape("rect",{x:cfg.box[0],y:cfg.box[1],width:cfg.box[2]-cfg.box[0],height:cfg.box[3]-cfg.box[1],fill:"none",stroke:"#444","stroke-width":2.2});
  
  
  cfg.xTicks.forEach(function(v){
    seg(cfg.xS(v),cfg.box[3],cfg.xS(v),cfg.box[3]+6,"#333",2.6,cfg.name+"-x-tick");
    label(cfg.xS(v)-cfg.tickShift(v),cfg.box[3]+cfg.tickOff,cfg.fmt(v),25,cfg.name+"-x-tick-label",{anchor:"middle"});
  });
}
function xC(v){return 522+96.2*v;}
function yC(i){return 943.6+53.5*i;}
function rC(c){return 1.53*Math.sqrt(c);}
function xD(v){return 1714.5+189.2*v;}
function yD(i){return 904.3+56.15*i;}
function rD(c){return 2.15*Math.sqrt(c);}
dotplot({name:"go-dotplot",box:[548,911.5,956,1457],xS:xC,yS:yC,rS:rC,clip:"clipC",terms:goTerms,termSize:25.8,ratio:goRatio,count:goCount,p:goPValue,pLo:[188,221,226],pHi:[231,139,126],pMax:0.0146,xTicks:goXTicks,xMinor:[0.5,1.5,2.5,3.5],tickOff:21,tickShift:function(){return 0;},fmt:function(v){return String(v);}});
dotplot({name:"kegg-dotplot",box:[1749,871,2164.5,1498.5],xS:xD,yS:yD,rS:rD,clip:"clipD",terms:keggTerms,termSize:26.2,ratio:keggRatio,count:keggCount,p:keggPValue,pLo:[123,168,204],pHi:[229,139,128],pMax:0.031,xTicks:keggXTicks,xMinor:[0.25,0.75,1.25,1.75,2.25],tickOff:22,tickShift:function(v){return 3+4*(v-0.5);},fmt:function(v){return v.toFixed(1);}});
label(741,1511,"GeneRatio",30.5,"go-x-title",{anchor:"middle"});
label(1939,1551,"GeneRatio",31,"kegg-x-title",{anchor:"middle"});
arrow(101,121,1314.5);
arrow(1577,1598,1241.8);
arrow(1443,1464,1297.6);

/* dot plot legends */
label(969.5,968.5,"Count",25.5,"go-count-title");
bar(970,994,44,224.5,"#F6F6F6","go-count-legend-bg");
const goLegendY=[1017,1062,1106.5,1151.6,1196];
goCountLegend.forEach(function(v,i){
  const c=shape("circle",{cx:991.5,cy:goLegendY[i],r:rC(v),fill:"#000"});
  
  
  label(1028,goLegendY[i],String(v),25,"go-count-legend-label");
});
label(974,1244.5,"PValue",25,"go-pvalue-title");
bar(975,1269.5,42,211,"url(#gradC)","go-pvalue-colorbar");
function yPC(p){return 1480.6-p*14400;}
goPTicks.forEach(function(v){
  seg(975,yPC(v),983,yPC(v),"#fff",1.6,"go-colorbar-tick");
  seg(1009,yPC(v),1017,yPC(v),"#fff",1.6,"go-colorbar-tick");
  label(1030,yPC(v)+4,v.toFixed(3),25.5,"go-colorbar-label");
});
label(2181,946,"Count",25.5,"kegg-count-title");
bar(2181,972,43,128,"#F6F6F6","kegg-count-legend-bg");
const keggLegendY=[993.6,1036,1078.4];
keggCountLegend.forEach(function(v,i){
  const c=shape("circle",{cx:2202,cy:keggLegendY[i],r:rD(v),fill:"#000"});
  
  
  label(2237,keggLegendY[i],String(v),25,"kegg-count-legend-label");
});
label(2186,1173.5,"PValue",25,"kegg-pvalue-title");
bar(2186,1198,43,214,"url(#gradD)","kegg-pvalue-colorbar");
function yPD(p){return 1411-p*6900;}
keggPTicks.forEach(function(v){
  seg(2186,yPD(v),2195,yPD(v),"#fff",1.6,"kegg-colorbar-tick");
  seg(2220,yPD(v),2229,yPD(v),"#fff",1.6,"kegg-colorbar-tick");
  label(2242,yPD(v),v.toFixed(2),25.5,"kegg-colorbar-label");
});

/* ---------- Panel F ---------- */
function xF(i){return 1370+132.1*i;}
function yF(v){return 2112-30.6*v;}
const FC_LINE="#B0DCEB",FC_FILL="#D8EDF5",KD_LINE="#F5C6D0",KD_FILL="#FBE3E8";
function drawBar(x,v,err,line,fill,name){
  const sw=5.5;
  const r=shape("rect",{x:x+sw/2,y:yF(v)+sw/2,width:44-sw,height:Math.max(0,yF(0)-yF(v)-sw/2),fill:fill,stroke:line,"stroke-width":sw});
  
  
  const cx=x+22;
  seg(cx,yF(v-err),cx,yF(v+err),line,3.4,name+"-error-stem");
  seg(cx-11.5,yF(v+err),cx+11.5,yF(v+err),line,3.4,name+"-error-cap");
  seg(cx-11.5,yF(v-err),cx+11.5,yF(v-err),line,3.4,name+"-error-cap");
}
barGenes.forEach(function(g,i){
  drawBar(xF(i)-44,barFC[i],errFC[i],FC_LINE,FC_FILL,"bar-fc-"+g.toLowerCase());
  drawBar(xF(i),barKD[i],errKD[i],KD_LINE,KD_FILL,"bar-kd-"+g.toLowerCase());
  seg(xF(i),2112,xF(i),2133,"#000",4.8,"bar-x-tick");
  label(xF(i)+8,2146,g,33,"bar-x-tick-label",{anchor:"end",italic:true,rotate:-45});
});
seg(1284,2112,2362,2112,"#000",5.5,"bar-x-axis");
seg(1305.5,1650.5,1305.5,2114,"#000",7,"bar-y-axis");
barYTicks.forEach(function(v){
  seg(1284,yF(v),1305,yF(v),"#000",5,"bar-y-tick");
  label(1278,yF(v),String(v),32,"bar-y-tick-label",{anchor:"end"});
});
label(1204,1882,"Gene  Expression [log(FPKM+1)]",35.3,"bar-y-title",{anchor:"middle",rotate:-90,pre:true});
bar(2216.5,1623,49,25,FC_FILL,"bar-legend-fc",FC_LINE,5.5);
bar(2216.5,1687.5,49,25,KD_FILL,"bar-legend-kd",KD_LINE,5.5);
label(2294,1635,"FC",35,"bar-legend-fc-label");
label(2294,1699,"KD",35,"bar-legend-kd-label");
</script>
</body>
</html>
